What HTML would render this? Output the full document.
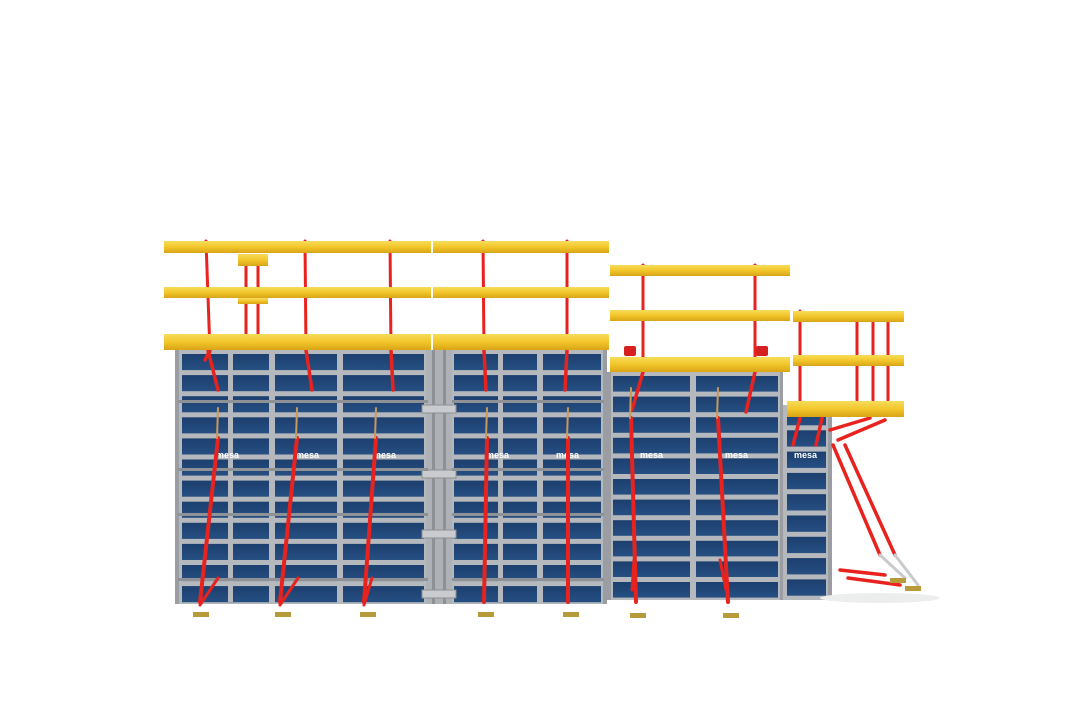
<!DOCTYPE html>
<html><head><meta charset="utf-8"><style>
html,body{margin:0;padding:0;background:#fff;width:1068px;height:713px;overflow:hidden}
svg{display:block}
</style></head><body>
<svg id="s" width="1068" height="713" viewBox="0 0 1068 713" xmlns="http://www.w3.org/2000/svg">
<defs>
<linearGradient id="y" x1="0" y1="0" x2="0" y2="1"><stop offset="0" stop-color="#f7dc5a"/><stop offset="0.5" stop-color="#f2c62a"/><stop offset="1" stop-color="#d9a416"/></linearGradient>
<linearGradient id="b" x1="0" y1="0" x2="0" y2="1"><stop offset="0" stop-color="#1c3f6e"/><stop offset="1" stop-color="#264f82"/></linearGradient>
</defs>
<g id="walls"></g>
<g id="ribs"></g>
<g font-family="Liberation Sans, sans-serif" font-weight="bold" font-size="9" fill="#fff">
<text x="216" y="458">mesa</text><text x="296" y="458">mesa</text><text x="373" y="458">mesa</text>
<text x="486" y="458">mesa</text><text x="556" y="458">mesa</text><text x="640" y="458">mesa</text>
<text x="725" y="458">mesa</text><text x="794" y="458">mesa</text>
</g>
<g id="red" stroke="#e8231f" stroke-linecap="round" fill="none"></g>
<g id="beams"></g>
</svg>
<script>
const NS="http://www.w3.org/2000/svg";
function el(p,t,a){const e=document.createElementNS(NS,t);for(const k in a)e.setAttribute(k,a[k]);document.getElementById(p).appendChild(e);return e}
el('walls','rect',{x:175,y:350,width:432,height:254,fill:'#b5b8bc'});
el('walls','rect',{x:607,y:372,width:176,height:228,fill:'#b5b8bc'});
el('walls','rect',{x:782,y:405,width:50,height:195,fill:'#b5b8bc'});
function grid(y0,y1,vx,step){
  for(let y=y0+4;y+step-5<=y1-1;y+=step){
    for(let i=0;i<vx.length-1;i++){
      el('walls','rect',{x:vx[i]+3,y:y,width:vx[i+1]-vx[i]-6,height:step-5,fill:'url(#b)'});
    }
  }
}
grid(350,604,[179,272,340,427],21.1);
grid(350,604,[451,540,604],21.1);
grid(372,600,[610,693,781],20.6);
grid(405,600,[784,829],21.3);
[228,498].forEach(x=>el('walls','rect',{x:x,y:352,width:5,height:250,fill:'#b5b8bc'}));
el('walls','rect',{x:426,y:350,width:26,height:254,fill:'#aeb1b5'});
el('walls','rect',{x:432,y:350,width:3,height:254,fill:'#8d9094'});
el('walls','rect',{x:443,y:350,width:3,height:254,fill:'#8d9094'});
[405,470,530,590].forEach(y=>el('walls','rect',{x:422,y:y,width:34,height:8,fill:'#c9cbce',stroke:'#8d9094','stroke-width':1}));
[[175,350,4,254],[603,350,4,254],[607,372,4,228],[780,372,3,228],[828,405,4,195]].forEach(r=>el('walls','rect',{x:r[0],y:r[1],width:r[2],height:r[3],fill:'#9a9da1'}));
[400,468,513,578].forEach(y=>el('ribs','rect',{x:178,y:y,width:250,height:3,fill:'#8e9195'}));
[400,468,513,578].forEach(y=>el('ribs','rect',{x:452,y:y,width:152,height:3,fill:'#8e9195'}));
const R=(x1,y1,x2,y2,w)=>el('red','line',{x1,y1,x2,y2,'stroke-width':w||3});
[[206,241,210,352],[305,241,306,352],[390,241,391,352],[483,241,484,352],[567,241,567,352],[643,265,643,360],[755,265,755,360],[800,311,800,420],[857,318,857,400],[873,318,873,400],[888,318,888,400],[246,260,246,336],[258,260,258,336]].forEach(p=>R(...p));
[[208,350,218,390],[210,350,205,360],[306,350,312,390],[391,350,393,390],[484,350,486,390],[567,350,565,390],[643,372,632,410],[755,372,746,412],[800,418,793,445],[822,418,816,445]].forEach(p=>R(...p,3.5));
[[218,408,200,612],[297,408,280,612],[376,408,364,612],[487,408,484,612],[568,408,568,612],[631,388,636,612],[718,388,728,612]].forEach(p=>{R(p[0],p[1]+30,p[2],p[3]-10,4);el('red','line',{x1:p[0],y1:p[1],x2:p[0]-1,y2:p[1]+30,stroke:'#c99a5a','stroke-width':2})});
[[200,605,218,578],[280,605,298,578],[364,605,372,578],[632,590,634,560],[726,590,720,560]].forEach(p=>R(...p,3));
[[838,440,885,420],[830,430,870,418],[833,445,880,555],[845,445,895,555],[840,570,885,575],[848,578,900,585]].forEach(p=>R(...p,3.5));
el('red','line',{x1:880,y1:555,x2:905,y2:578,stroke:'#c8cacc','stroke-width':3});
el('red','line',{x1:895,y1:555,x2:918,y2:585,stroke:'#c8cacc','stroke-width':3});
[[193,612],[275,612],[360,612],[478,612],[563,612],[630,613],[723,613],[890,578],[905,586]].forEach(f=>el('beams','rect',{x:f[0],y:f[1],width:16,height:5,fill:'#b79a3a'}));
const B=(x,y,w,h)=>{el('beams','rect',{x,y,width:w,height:h,fill:'url(#y)'})};
B(164,241,267,12);B(433,241,176,12);
B(164,287,267,11);B(433,287,176,11);
B(164,334,267,16);B(433,334,176,16);
B(610,265,180,11);B(610,310,180,11);B(610,357,180,15);
B(793,311,111,11);B(793,355,111,11);B(787,401,117,16);
B(238,254,30,12);B(238,298,30,6);
[[624,346],[756,346]].forEach(l=>el('beams','rect',{x:l[0],y:l[1],width:12,height:10,fill:'#d62020',rx:2}));
el('walls','ellipse',{cx:880,cy:598,rx:60,ry:5,fill:'#eceded'});
</script>
</body></html>
